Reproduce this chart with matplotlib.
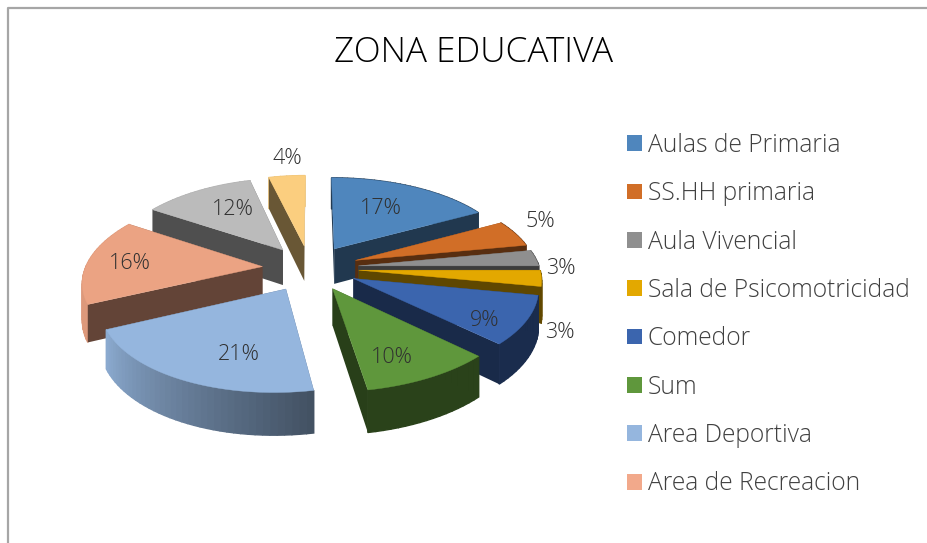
import numpy as np
import matplotlib
matplotlib.use("Agg")
import matplotlib.pyplot as plt
from matplotlib.patches import Polygon, Rectangle
from matplotlib.lines import Line2D
from matplotlib.colors import to_rgb

title = "ZONA EDUCATIVA"
legend_names = ["Aulas de Primaria", "SS.HH primaria", "Aula Vivencial", "Sala de Psicomotricidad",
                "Comedor", "Sum", "Area Deportiva", "Area de Recreacion"]
values = [17, 5, 3, 3, 9, 10, 21, 16, 12, 4]
top_colors = ["#4F86BD", "#D16E27", "#8F8F8F", "#E3A800", "#3B65AE", "#5F973C", "#95B6DE", "#EBA383", "#BBBBBB", "#FBCE7F"]
legend_colors = ["#4F86BD", "#D16E27", "#8F8F8F", "#E3A800", "#3B65AE", "#5F973C", "#95B6DE", "#F2A98B"]

# projection / layout (pixel canvas)
CX, CY = 310, 268
A_R, A_L, S, B, P = 181, 177, 7, 84.6, 0.1266
EXPLODE, HEIGHT = 0.27, 36
label_r = [.6, 1.15, 1.15, 1.15, .6, .6, .6, .6, .6, 1.15]
label_nudge = [(-2, -2), (2, -8), (-1, 12), (-10, 53), (30, 17), (4, 18), (12, 14), (-28, 0), (4, -4), (3, -8)]
FONT = "Open Sans"

def project(X, Y, Z=0.0):
    X, Y = np.asarray(X), np.asarray(Y)
    w = 1 / (1 + P * Y)
    shear = S * np.minimum(Y, 0) + S * np.maximum(Y, 0) * np.clip(-X, 0, 1)
    return CX + (np.where(X > 0, A_R, A_L) * X + shear) * w, CY - B * Y * w + Z * w

fig = plt.figure(figsize=(9.27, 5.43), dpi=100)
ax = fig.add_axes([0, 0, 1, 1])
ax.set_xlim(0, 927); ax.set_ylim(543, 0); ax.axis("off")

ax.add_line(Line2D([927, 8.5, 8.5], [7.5, 7.5, 543], color="#A6A6A6", lw=1.6))

frac = np.array(values) / sum(values)
edges = np.concatenate([[0], np.cumsum(frac)]) * 2 * np.pi

def wall_shade(t):
    d = np.degrees(t)
    return 0.44 + 0.50 * np.clip((d - 169) / 76, 0, 1)

def shade(c, f):
    return tuple(v * f for v in to_rgb(c))

def radial_face(ox, oy, tt, c):
    xs = np.array([ox, ox + np.sin(tt)]); ys = np.array([oy, oy + np.cos(tt)])
    x0, y0 = project(xs, ys); x1, y1 = project(xs, ys, HEIGHT)
    ax.add_patch(Polygon(np.c_[np.r_[x0, x1[::-1]], np.r_[y0, y1[::-1]]], fc=shade(c, .42), ec="none"))

order = sorted(range(len(values)), key=lambda i: np.cos((edges[i] + edges[i + 1]) / 2), reverse=True)
for i in order:
    t0, t1 = edges[i], edges[i + 1]
    mid = (t0 + t1) / 2
    ox, oy = EXPLODE * np.sin(mid), EXPLODE * np.cos(mid)
    ts = np.linspace(t0, t1, max(6, int((t1 - t0) * 30)))
    X = ox + np.sin(ts); Y = oy + np.cos(ts)
    c = top_colors[i]
    front = np.cos(t0 - np.pi / 2) < 0, np.cos(t1 + np.pi / 2) < 0
    for tt, is_front in zip((t0, t1), front):
        if not is_front:
            radial_face(ox, oy, tt, c)
    x0, y0 = project(X, Y); x1, y1 = project(X, Y, HEIGHT)
    for k in range(len(ts) - 1):
        col = shade(c, wall_shade((ts[k] + ts[k + 1]) / 2))
        ax.add_patch(Polygon([(x0[k], y0[k]), (x0[k + 1], y0[k + 1]), (x1[k + 1], y1[k + 1]), (x1[k], y1[k])],
                             fc=col, ec=col, lw=1.0))
    for tt, is_front in zip((t0, t1), front):
        if is_front:
            radial_face(ox, oy, tt, c)
    ax_, ay_ = project(ox, oy)
    ax.add_patch(Polygon(np.r_[[[ax_, ay_]], np.c_[x0, y0]], fc=c, ec=c, lw=.3))

for i, v in enumerate(values):
    mid = (edges[i] + edges[i + 1]) / 2
    r = EXPLODE + label_r[i]
    x, y = project(r * np.sin(mid), r * np.cos(mid))
    ax.text(x + label_nudge[i][0], y + label_nudge[i][1], f"{v}%", ha="center", va="center",
            fontsize=15.5, family=FONT, weight="light", color="#303030")

ax.text(474, 53, title, ha="center", va="center", fontsize=25.3, family=FONT, weight="light", color="#000000")

handles = [Rectangle((0, 0), 1, 1, fc=c, ec="none") for c in legend_colors]
ax.legend(handles, legend_names, loc="upper left", bbox_to_anchor=(617 / 927, 1 - 123 / 543), frameon=False,
          prop={"family": FONT, "weight": "light", "size": 17.7}, labelcolor="#404040",
          handlelength=0.61, handleheight=0.61, handletextpad=0.25, labelspacing=0.95, borderaxespad=0, borderpad=0.4)

fig.savefig("out.png", dpi=100)
